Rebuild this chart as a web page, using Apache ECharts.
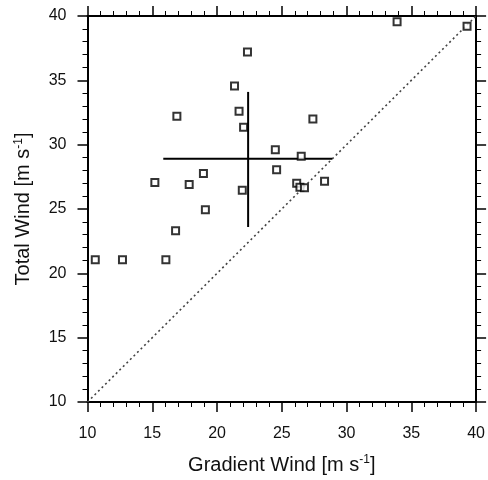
<!DOCTYPE html>
<html>
<head>
<meta charset="utf-8">
<script src="https://cdn.jsdelivr.net/npm/echarts@6/dist/echarts.min.js"></script>
<style>
  html, body { margin: 0; padding: 0; background: #fff; }
  #chart { width: 488px; height: 480px; }
</style>
</head>
<body>
<div id="chart"></div>
<script>
// Gradient wind vs. total wind for each case (m/s)
const gradientWind = [10.6, 12.7, 16.05, 16.8, 19.1, 15.2, 17.85, 18.95, 16.9, 21.95,
  22.05, 21.7, 21.35, 22.35, 24.5, 24.6, 26.5, 26.15, 26.4, 26.75, 28.3, 27.4, 33.9, 39.3];
const totalWind = [21.05, 21.05, 21.05, 23.3, 24.95, 27.05, 26.9, 27.75, 32.2, 26.45,
  31.35, 32.6, 34.55, 37.2, 29.6, 28.05, 29.1, 27.0, 26.7, 26.65, 27.15, 32.0, 39.55, 39.2];

// Mean and one-standard-deviation spread
const meanGradient = 22.4;
const meanTotal = 28.9;
const gradientSpread = [15.85, 28.9];
const totalSpread = [23.6, 34.1];

// One-to-one reference line
const oneToOne = [10, 40];

// Axis range
const axisMin = 10, axisMax = 40, axisStep = 5;

const font = 'Liberation Sans, Arial, Helvetica, sans-serif';
const ink = '#000';

function frameAxis(pos, showLabels, margin) {
  return {
    type: 'value',
    position: pos,
    min: axisMin, max: axisMax, interval: axisStep,
    splitLine: { show: false },
    axisLine: { show: true, onZero: false, lineStyle: { color: ink, width: 2 } },
    axisTick: { show: true, inside: false, length: 10, lineStyle: { color: ink, width: 1.5 } },
    minorTick: { show: true, splitNumber: 5, length: 5, lineStyle: { color: ink, width: 1 } },
    axisLabel: { show: showLabels, color: '#111', fontFamily: font, fontSize: 16, margin: margin }
  };
}

const xBottom = Object.assign(frameAxis('bottom', true, 24), {
  name: '{a|Gradient Wind [m s}{s|-1}{a|]}',
  nameLocation: 'middle',
  nameGap: 52,
  nameTextStyle: {
    rich: {
      a: { fontFamily: font, fontSize: 20, color: '#111' },
      s: { fontFamily: font, fontSize: 12, color: '#111', padding: [0, 0, 10, 0] }
    }
  }
});
const xTop = frameAxis('top', false, 8);
const yLeft = Object.assign(frameAxis('left', true, 21), {
  name: '{a|Total Wind [m s}{s|-1}{a|]}',
  nameLocation: 'middle',
  nameGap: 53,
  nameTextStyle: {
    rich: {
      a: { fontFamily: font, fontSize: 20, color: '#111' },
      s: { fontFamily: font, fontSize: 12, color: '#111', padding: [0, 0, 10, 0] }
    }
  }
});
const yRight = frameAxis('right', false, 8);

const chart = echarts.init(document.getElementById('chart'), null, { renderer: 'canvas' });
chart.setOption({
  animation: false,
  backgroundColor: '#fff',
  grid: { left: 87.5, right: 10.5, top: 16, bottom: 74, containLabel: false },
  xAxis: [xBottom, xTop],
  yAxis: [yLeft, yRight],
  series: [
    {
      type: 'line',
      data: oneToOne.map(v => [v, v]),
      symbol: 'none',
      lineStyle: { color: '#444', width: 1.6, type: [2, 3] },
      z: 1
    },
    {
      type: 'line',
      data: gradientSpread.map(v => [v, meanTotal]),
      symbol: 'none',
      lineStyle: { color: ink, width: 2 },
      z: 2
    },
    {
      type: 'line',
      data: totalSpread.map(v => [meanGradient, v]),
      symbol: 'none',
      lineStyle: { color: ink, width: 2 },
      z: 2
    },
    {
      type: 'scatter',
      data: gradientWind.map((g, i) => [g, totalWind[i]]),
      symbol: 'rect',
      symbolSize: 7,
      itemStyle: { color: '#fff', borderColor: ink, borderWidth: 2 },
      z: 3
    }
  ]
});
</script>
</body>
</html>
